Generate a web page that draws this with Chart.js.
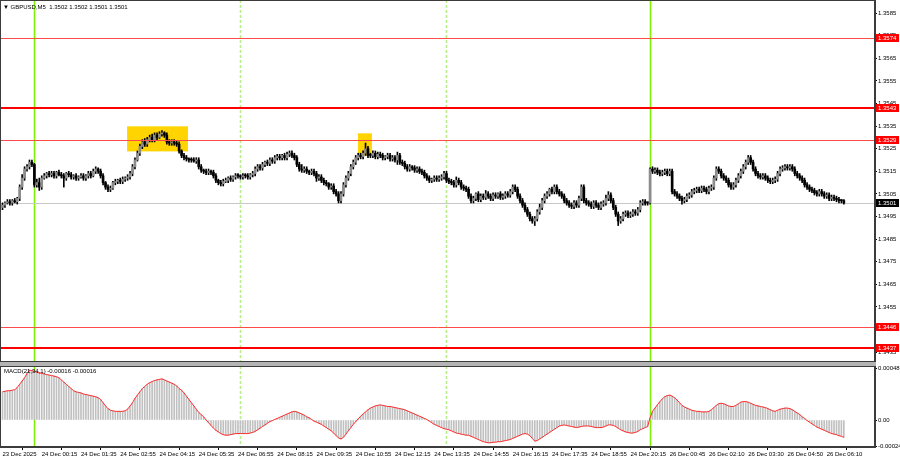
<!DOCTYPE html>
<html>
<head>
<meta charset="utf-8">
<script src="https://cdn.jsdelivr.net/npm/chart.js@4.4.0/dist/chart.umd.min.js"></script>
<style>
html, body { margin: 0; padding: 0; background: #fff; }
#wrap { position: relative; width: 900px; height: 460px; overflow: hidden; font-family: "Liberation Sans", Arial, sans-serif; }
#mainBox { position: absolute; left: 0; top: 0; width: 900px; height: 363px; }
#macdBox { position: absolute; left: 0; top: 365px; width: 900px; height: 95px; }
#sep { position: absolute; left: 0; top: 362px; width: 876px; height: 4px; background: #b4b4b4; }
.lbl { position: absolute; font-size: 6px; color: #000; white-space: pre; line-height: 8px; }
</style>
</head>
<body>
<div id="wrap">
  <div id="mainBox"><canvas id="mainChart"></canvas></div>
  <div id="sep"></div>
  <div id="macdBox"><canvas id="macdChart"></canvas></div>
  <div class="lbl" style="left:3px;top:3px;">▼ GBPUSD,M5  1.3502 1.3502 1.3501 1.3501</div>
  <div class="lbl" style="left:4px;top:367px;">MACD(21,34,1) -0.00016 -0.00016</div>
</div>
<script>
/* ------------------------- DATA ------------------------- */
// prices in pips above 1.3500, one value per M5 bar
const BASE = 1.3500;
const PIP = 0.0001;
const firstOpen = -1;

const closePips = [
  0, 1, 1.5, 1, 2, 1.5, 3, 8, 12, 16,
  17, 19, 18, 9, 10, 8, 12, 13, 14, 13.5,
  14, 13, 14.5, 13.5, 13, 12, 14, 13.5, 12.5, 13,
  12, 12.5, 13, 12, 13, 14, 13, 15, 16, 15,
  13, 10, 8, 7, 7.5, 10, 10.5, 11, 10.5, 11.5,
  12, 12.5, 14, 17, 20, 23, 26, 28, 27, 29,
  30, 29, 31, 30, 31.5, 32, 31, 28, 27.5, 28,
  27.5, 27, 24, 22, 21, 20.5, 20, 20, 19.5, 20,
  17, 15.5, 15, 14.5, 15, 14.5, 13, 11, 10, 9.5,
  10.5, 11, 12, 11.5, 12.5, 13, 13, 12.5, 13, 13,
  12.5, 13.5, 14, 16, 17, 16.5, 18, 19, 18.5, 20,
  19.5, 21, 21.5, 21, 22, 21, 22.5, 23, 22, 21,
  18, 16, 15.5, 16, 15, 14.5, 15, 14, 12, 12.5,
  11, 10, 9.5, 8, 8.5, 6, 5, 2, 5, 9,
  12, 14, 17, 19, 21, 22, 21.5, 23, 25, 22,
  22, 23, 21.5, 22.5, 22, 21, 21.5, 22, 20.5, 21,
  20, 22, 19, 18.5, 17, 16, 17, 16.5, 15.5, 16,
  15, 14.5, 13, 12, 11, 11.5, 12, 11.5, 12, 12.5,
  14, 11, 10.5, 10, 9, 11, 10, 8, 7.5, 7,
  4, 2, 3, 5, 2.5, 4, 3.5, 5, 4, 3,
  4.5, 4, 5, 3.5, 4, 5, 4.5, 6, 8, 7,
  4, 2, 0, -2, -4, -6, -7, -6, -3, -1,
  2, 4, 5, 7, 6, 8, 6, 5, 4, 2,
  1, 0, -0.5, 1, 0, 3, 8, 2, 1, 0.5,
  -0.5, 1, 0, -1, 0.5, 1, 3, 4.5, 2, -1,
  -4, -7, -6, -4, -3.5, -4.5, -4, -3, -3.5, -2,
  1, 1.5, 1, 1, 16, 15, 15.5, 14.5, 14, 14.5,
  15, 14, 15, 6, 5, 4, 3, 2, 2.5, 4,
  4.5, 6, 6.5, 7, 6.5, 7.5, 7, 6, 7.5, 8,
  12, 16, 15, 13, 12, 11, 9, 8, 9, 11,
  13, 15, 17, 19, 21, 19, 16, 14, 13, 12.5,
  13, 12, 11, 10.5, 11, 11.5, 14, 16, 16.5, 17,
  16.5, 17, 16, 14, 13, 12, 11, 9, 8, 7,
  6.5, 5.5, 5, 6, 5, 4, 4.5, 3, 3.5, 3,
  2.5, 2, 2, 1
];

const wickUp = [
  1, 0.5, 1, 1, 0.5, 1, 0.5, 1, 1.5, 1,
  1, 1, 1, 0.5, 1.5, 2, 1, 1, 0.5, 1,
  1, 1, 0.5, 1, 1, 1, 0.5, 1, 1, 0.5,
  1, 0.5, 1, 1, 0.5, 1, 1, 1, 1, 0.5,
  1, 1, 0.5, 1, 1, 0.5, 1, 0.5, 1, 1,
  0.5, 1, 1, 1, 1, 1, 1, 1, 1.5, 1,
  1, 1.5, 1, 1, 1, 1, 0.5, 1, 1, 1,
  1, 1, 1, 0.5, 1, 1, 0.5, 1, 1, 1,
  1, 1, 0.5, 1, 1, 0.5, 1, 1, 0.5, 1,
  1, 1, 0.5, 1, 0.5, 1, 1, 0.5, 1, 1,
  1, 0.5, 1, 1, 1, 1, 1, 0.5, 1, 1,
  1, 1, 1, 1, 0.5, 1, 1, 1, 1, 1,
  1, 1, 2, 1, 1, 0.5, 1, 1, 1, 1,
  1, 1, 1, 0.5, 1, 1, 1, 1, 1, 1,
  1, 1, 1, 1, 1, 1, 1, 1, 2.5, 1,
  1, 1, 1, 1, 1, 1, 0.5, 1, 1, 1,
  1, 1.5, 1, 1, 1, 1, 1, 0.5, 1, 1,
  1, 1, 1, 1, 1, 0.5, 1, 1, 1, 1,
  1, 1, 1, 1, 1, 1.5, 1, 1, 1, 1,
  1, 1, 1, 0.5, 1, 1, 1, 1.5, 1, 1,
  1, 1, 0.5, 1, 1, 1, 1, 1, 1, 1,
  1, 1, 1, 1, 1, 1, 1, 1, 1, 1.5,
  1, 1, 1, 0.5, 1, 1, 1, 1, 1, 1,
  1, 1, 1, 1, 1, 1, 1, 1, 1, 1,
  1, 1, 1, 1, 1, 1, 1.5, 1.5, 1, 1,
  1, 1, 1, 1, 1, 1, 1, 1, 1, 1,
  1, 1, 1, 0.5, 0.5, 1, 1, 1, 1, 1,
  1, 1, 1, 1, 1, 1, 1, 1, 1, 1,
  1, 1, 1, 1, 1, 1, 1, 1, 1, 1,
  1, 1, 1, 1, 1, 1, 1, 1, 1, 1,
  1, 1, 1, 1, 1, 1, 1, 1, 1, 1,
  1, 1, 1, 1, 1, 1, 1, 1, 1, 1,
  1, 1, 1, 1, 1, 1, 1, 1, 1, 1,
  1, 1, 1, 1, 1, 1, 1, 1, 1, 1,
  1, 1, 0.5, 0.5
];

const wickDn = [
  1, 1, 0.5, 1, 1, 0.5, 1, 1, 1, 1,
  1, 1, 1, 1, 1, 1.5, 1, 0.5, 1, 1,
  1, 1, 1, 0.5, 1, 4, 1, 1, 1, 1,
  1, 1, 0.5, 1, 1, 1, 1, 0.5, 1, 1,
  1, 1, 1, 1, 1, 0.5, 1, 1, 1, 1,
  1, 1, 1, 1, 1, 0.5, 1, 1, 1, 1,
  1, 1, 1, 1, 0.5, 1, 1, 1, 1, 1,
  1, 1, 1, 1, 1, 1, 1, 1, 0.5, 1,
  1, 1, 1, 1, 1, 1, 1, 1, 1, 1,
  1, 0.5, 1, 1, 1, 1, 1, 1, 1, 1,
  1, 1, 1, 1, 1, 1, 1, 1, 1, 1,
  1, 1, 1, 1, 1, 1, 1, 1, 1, 1,
  1, 1, 1, 1, 1, 1, 1, 1, 1.5, 1,
  1, 1, 1, 1, 1, 1, 1, 1, 1, 1,
  1, 1, 1, 1, 1, 1, 1, 1, 1, 1,
  1, 1, 1, 1, 1, 1, 1, 1, 1, 1,
  1, 2, 1, 1, 1, 1, 1, 1, 1, 1,
  1, 1, 1, 1, 1, 1, 1, 1, 1, 1,
  1, 1, 1, 1, 1, 1, 1, 1, 1, 1,
  1, 1, 1, 1, 1, 1, 1, 1, 1, 1,
  1, 1, 1, 1, 1, 1, 1, 1, 1, 1,
  1, 1, 1, 1, 1, 1, 1, 2, 1, 1,
  1, 1, 1, 1, 1, 1, 1, 1, 1, 1,
  1, 1, 1, 1, 1, 1, 1, 1, 1, 1,
  1, 1, 1, 1, 1, 1, 1, 1, 1, 1,
  1, 2, 1, 1, 1, 1, 1, 1, 1, 1,
  1, 1, 1, 1, 0.5, 1, 1, 1, 1, 1,
  1, 1, 1, 1, 1, 1, 1, 1.5, 1, 1,
  1, 1, 1, 1, 1, 1, 1, 1, 1, 1,
  1, 1, 1, 1, 1, 1, 1, 1, 1, 1,
  1, 1, 1, 1, 1, 1, 1, 1, 1, 1,
  1, 1, 1, 1, 1, 1, 1, 1, 1, 1,
  1, 1, 1, 1, 1, 1, 1, 1, 1, 1,
  1, 1, 1, 1, 1, 1, 1, 1, 1, 1,
  1, 1, 1, 0.5
];

// MACD(21,34,1) in units of 0.00001
const macdVals = [
  26, 26.5, 27, 27, 27.5, 28, 30, 33, 36, 39,
  43, 46, 45.5, 45, 44, 43.5, 43, 42.5, 42, 41.5,
  41, 40.5, 40, 39, 37, 35, 33, 31, 29, 27,
  26, 25.5, 25, 24, 23.5, 23, 22.5, 22, 21.5, 20.5,
  19, 16, 13, 10.5, 9, 8.5, 8, 8, 8, 8,
  8.5, 10, 13, 16, 20, 23, 26, 29, 31, 33,
  34.5, 35.5, 36.5, 37, 37.5, 38, 37, 36, 35, 34,
  33, 31.5, 29, 27.5, 25, 22, 19, 16, 13, 10,
  7, 5, 3, 0, -2.5, -5, -7.5, -9.5, -11, -12.5,
  -13.5, -14, -14, -13.5, -13, -12.5, -12.5, -12.5, -12.5, -12.5,
  -12.5, -12, -11.5, -10.5, -9, -7.5, -6, -4.5, -3, -1.5,
  -0.5, 0.5, 1.5, 2.5, 3.5, 4.5, 5.5, 6.5, 7.5, 8,
  7.5, 6.5, 5.5, 4.5, 3, 2, 0.5, -1, -2, -3,
  -4, -5.5, -7, -8.5, -10, -12, -14.5, -16.5, -17.5, -16,
  -13, -10, -7, -4, -1.5, 1, 3.5, 5.5, 7.5, 9.5,
  11, 12, 13, 13.5, 14, 13.5, 13, 12.5, 12.5, 12,
  11.5, 11, 10.5, 10, 9.5, 8.5, 7.5, 6.5, 5.5, 4.5,
  3.5, 2.5, 1.5, 0.5, -1, -2.5, -4, -5, -6, -7,
  -8, -8.5, -9, -10, -11, -12, -12.5, -13, -13.5, -14,
  -14, -15, -16, -17, -18, -19, -20, -20.5, -21, -21,
  -20.5, -20.5, -20, -20, -19.5, -19, -18.5, -18, -17, -16,
  -15, -14, -13, -12.5, -13, -14.5, -17, -19.5, -19, -17.5,
  -16, -14.5, -13, -11.5, -10, -8.5, -7, -5.5, -5, -4.5,
  -5, -5.5, -6, -6.5, -7, -6.5, -6, -5.5, -5.5, -5.5,
  -6, -6.5, -7, -7, -7, -6.5, -5.5, -4.5, -4.5, -5,
  -6, -7.5, -9, -10, -11, -11.5, -12, -12, -11.5, -10.5,
  -9, -8, -7, -6, 2, 8, 11, 14, 17, 19.5,
  21.5, 22.5, 23, 22, 20.5, 18.5, 16, 13.5, 12, 11,
  10, 9, 8.5, 8, 8, 7.5, 7.5, 7.5, 8, 9.5,
  11.5, 13.5, 15, 15.5, 15, 14, 13, 12.5, 12.5, 13.5,
  15, 16.5, 17, 17, 16.5, 15.5, 14.5, 13.5, 13, 12.5,
  12, 11.5, 10.5, 9.5, 8.5, 8, 9, 10, 10.5, 11,
  11, 10.5, 9.5, 8, 6.5, 5, 3, 1.5, -0.5, -2,
  -3.5, -5, -6.5, -7.5, -8.5, -9.5, -10.5, -11.5, -12.5, -13,
  -13.5, -14.5, -15, -16
];

// time axis: bar index of each label, and its text
const timeTickBars = [0, 16, 32, 48, 64, 80, 96, 112, 128, 144, 160, 176, 192, 208, 224, 240, 256, 272, 288, 304, 320, 336];
const timeLabels = [
  '23 Dec 2025', '24 Dec 00:15', '24 Dec 01:35', '24 Dec 02:55', '24 Dec 04:15', '24 Dec 05:35',
  '24 Dec 06:55', '24 Dec 08:15', '24 Dec 09:35', '24 Dec 10:55', '24 Dec 12:15', '24 Dec 13:35',
  '24 Dec 14:55', '24 Dec 16:15', '24 Dec 17:35', '24 Dec 18:55', '24 Dec 20:15', '26 Dec 00:45',
  '26 Dec 02:10', '26 Dec 03:30', '26 Dec 04:50', '26 Dec 06:10'
];

const priceTicks = [1.3435, 1.3445, 1.3455, 1.3465, 1.3475, 1.3485, 1.3495, 1.3505, 1.3515,
  1.3525, 1.3535, 1.3545, 1.3555, 1.3565, 1.3575, 1.3585];
const macdTicks = [0.00048, 0, -0.00024];
const macdTickText = ['0.00048', '0.00', '-0.00024'];

// horizontal levels and the current price
const levelPrices = [1.3574, 1.3543, 1.3529, 1.3446, 1.3437];
const lastPrice = 1.3501;

// vertical lines (bar index)
const vlineBars = [13, 97, 181, 264];

// highlighted zones: bar range and price range
const zoneFrom = [50.8, 144.9];
const zoneTo = [75.6, 150.6];
const zoneTop = [1.35349, 1.35318];
const zoneBottom = [1.35238, 1.35220];

/* ------------------------- STYLE ------------------------- */
const X_MIN = -1.02, X_MAX = 355.7;
const FAMILY = '"Liberation Sans", Arial, sans-serif';
const FONT = { family: FAMILY, size: 6 };
const levelWidths = [1, 2, 1, 1, 2];
const vlineDash = [[], [3, 2], [3, 2], []];
const vlineColor = ['#7cf000', '#b8ec8c', '#b8ec8c', '#7cf000'];

/* ------------------------- BARS ------------------------- */
const bars = closePips.map((c, i) => {
  const o = i === 0 ? firstOpen : closePips[i - 1];
  return {
    i,
    o: BASE + o * PIP,
    c: BASE + c * PIP,
    h: BASE + (Math.max(o, c) + wickUp[i]) * PIP,
    l: BASE + (Math.min(o, c) - wickDn[i]) * PIP
  };
});

// no extra room for overhanging tick labels
const noPad = s => { s.paddingTop = 0; s.paddingBottom = 0; s.paddingLeft = 0; s.paddingRight = 0; };

/* ------------------------- Overlay plugin ------------------------- */
const overlayPlugin = {
  id: 'overlay',
  beforeDatasetsDraw(chart, args, o) {
    const { ctx, chartArea: a } = chart;
    const x = chart.scales.x, y = chart.scales.y;
    ctx.save();
    ctx.beginPath();
    ctx.rect(a.left, a.top, a.width, a.height);
    ctx.clip();
    if (o.zones) {
      ctx.fillStyle = '#ffd400';
      zoneFrom.forEach((f, k) => {
        const x1 = x.getPixelForValue(f), x2 = x.getPixelForValue(zoneTo[k]);
        const y1 = y.getPixelForValue(zoneTop[k]), y2 = y.getPixelForValue(zoneBottom[k]);
        ctx.fillRect(x1, y1, x2 - x1, y2 - y1);
      });
    }
    vlineBars.forEach((b, k) => {
      const px = Math.round(x.getPixelForValue(b)) + 0.5;
      ctx.strokeStyle = vlineColor[k];
      ctx.lineWidth = 1.5;
      ctx.setLineDash(vlineDash[k]);
      ctx.beginPath();
      ctx.moveTo(px, a.top);
      ctx.lineTo(px, a.bottom);
      ctx.stroke();
    });
    ctx.setLineDash([]);
    if (o.levels) {
      const py = Math.round(y.getPixelForValue(lastPrice)) + 0.5;
      ctx.strokeStyle = '#c8c8c8';
      ctx.lineWidth = 1;
      ctx.beginPath(); ctx.moveTo(a.left, py); ctx.lineTo(a.right, py); ctx.stroke();
    }
    ctx.restore();
  },
  afterDatasetsDraw(chart, args, o) {
    if (!o.levels) return;
    const { ctx, chartArea: a } = chart;
    const y = chart.scales.y;
    ctx.save();
    levelPrices.forEach((p, k) => {
      const w = levelWidths[k];
      const py = Math.round(y.getPixelForValue(p)) + (w === 1 ? 0.5 : 0);
      ctx.strokeStyle = w === 1 ? '#ff4a4a' : '#ff0000';
      ctx.lineWidth = w;
      ctx.beginPath(); ctx.moveTo(a.left, py); ctx.lineTo(a.right, py); ctx.stroke();
    });
    ctx.restore();
  },
  afterDraw(chart, args, o) {
    const { ctx, chartArea: a } = chart;
    ctx.save();
    ctx.strokeStyle = '#3c3c3c';
    ctx.lineWidth = 1;
    ctx.strokeRect(a.left + 0.5, a.top + 0.5, a.width - 1, a.height - 1);
    if (o.levels) {
      const y = chart.scales.y;
      ctx.font = '6px ' + FAMILY;
      ctx.textBaseline = 'middle';
      const tag = (p, bg) => {
        const py = Math.round(y.getPixelForValue(p));
        ctx.fillStyle = bg;
        ctx.fillRect(a.right + 1, py - 4, 23, 8);
        ctx.fillStyle = '#fff';
        ctx.fillText(p.toFixed(4), a.right + 3, py);
      };
      levelPrices.forEach(p => tag(p, '#ff0000'));
      tag(lastPrice, '#000');
    }
    ctx.restore();
  }
};
Chart.register(overlayPlugin);

/* ------------------------- Main chart ------------------------- */
new Chart(document.getElementById('mainChart'), {
  type: 'bar',
  data: {
    datasets: [
      {
        label: 'body',
        data: bars.map(b => ({ x: b.i, y: [b.o, b.c] })),
        backgroundColor: bars.map(b => (b.c > b.o ? '#8c8c8c' : '#000')),
        barThickness: 2,
        minBarLength: 1,
        grouped: false,
        order: 0
      },
      {
        label: 'wick',
        data: bars.map(b => ({ x: b.i, y: [b.l, b.h] })),
        backgroundColor: '#000',
        barThickness: 1,
        grouped: false,
        order: 1
      }
    ]
  },
  options: {
    responsive: true,
    maintainAspectRatio: false,
    animation: false,
    layout: { padding: { left: 0, top: 0, right: 0, bottom: 1 } },
    plugins: { legend: { display: false }, tooltip: { enabled: false }, overlay: { levels: true, zones: true } },
    scales: {
      x: { type: 'linear', min: X_MIN, max: X_MAX, offset: false, display: false },
      y: {
        position: 'right',
        min: 1.34306, max: 1.35908,
        afterBuildTicks: s => { s.ticks = priceTicks.map(v => ({ value: v })); },
        afterFit: s => { s.width = 25; noPad(s); },
        ticks: { font: FONT, color: '#000', padding: 1, callback: v => v.toFixed(4) },
        grid: { drawOnChartArea: false, tickLength: 2, color: '#000' },
        border: { display: true, color: '#3c3c3c' }
      }
    }
  }
});

/* ------------------------- MACD chart ------------------------- */
new Chart(document.getElementById('macdChart'), {
  type: 'bar',
  data: {
    datasets: [
      {
        type: 'line',
        label: 'signal',
        data: macdVals.map((v, i) => ({ x: i, y: v * 1e-5 })),
        borderColor: '#ff2a2a',
        borderWidth: 1,
        pointRadius: 0,
        tension: 0,
        order: 0
      },
      {
        label: 'macd',
        data: macdVals.map((v, i) => ({ x: i, y: v * 1e-5 })),
        backgroundColor: '#c0c0c0',
        barThickness: 1,
        grouped: false,
        order: 1
      }
    ]
  },
  options: {
    responsive: true,
    maintainAspectRatio: false,
    animation: false,
    layout: { padding: { left: 0, top: 1, right: 0, bottom: 1 } },
    plugins: { legend: { display: false }, tooltip: { enabled: false }, overlay: {} },
    scales: {
      x: {
        type: 'linear', min: X_MIN, max: X_MAX, offset: false,
        afterBuildTicks: s => { s.ticks = timeTickBars.map(v => ({ value: v })); },
        afterFit: s => { s.height = 12; noPad(s); },
        ticks: {
          font: FONT, color: '#000', padding: 1, autoSkip: false, maxRotation: 0, align: 'start',
          callback: v => timeLabels[timeTickBars.indexOf(v)] || ''
        },
        grid: { drawOnChartArea: false, tickLength: 3, color: '#000' },
        border: { display: true, color: '#3c3c3c' }
      },
      y: {
        position: 'right',
        min: -0.000249, max: 0.0004985,
        afterBuildTicks: s => { s.ticks = macdTicks.map(v => ({ value: v })); },
        afterFit: s => { s.width = 25; noPad(s); },
        ticks: { font: FONT, color: '#000', padding: 1, callback: v => macdTickText[macdTicks.indexOf(v)] },
        grid: { drawOnChartArea: false, tickLength: 2, color: '#000' },
        border: { display: true, color: '#3c3c3c' }
      }
    }
  }
});
</script>
</body>
</html>
